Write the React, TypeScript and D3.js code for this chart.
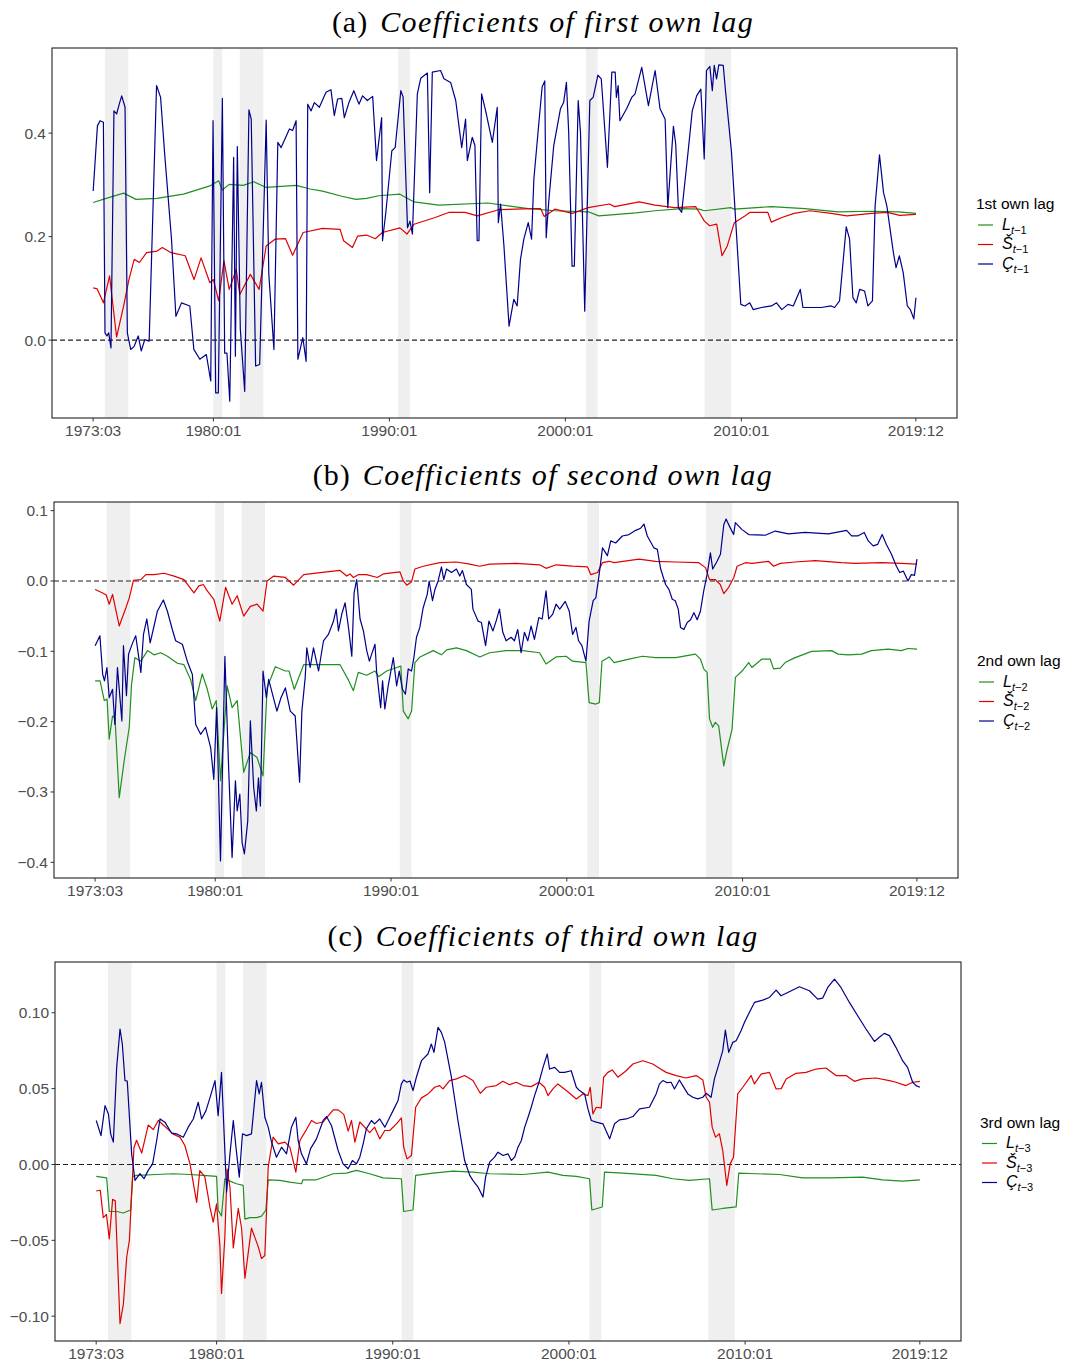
import * as d3 from "d3";

type Pt = [number, number];

const xTickLabels = ["1973:03", "1980:01", "1990:01", "2000:01", "2010:01", "2019:12"];
const sampleStart = "1973:03";
const sampleEnd = "2019:12";
const recessions: [string, string][] = [
  ["1973:11", "1975:03"],
  ["1980:01", "1980:07"],
  ["1981:07", "1982:11"],
  ["1990:07", "1991:03"],
  ["2001:03", "2001:11"],
  ["2007:12", "2009:06"],
];

// (a) first own lag
const L1: Pt[] = [[1973.17,0.266],[1974.0,0.275],[1974.9,0.284],[1975.6,0.272],[1976.8,0.274],[1978.3,0.282],[1979.8,0.298],[1980.3,0.308],[1980.5,0.29],[1980.9,0.301],[1981.7,0.299],[1982.3,0.306],[1983.0,0.295],[1984.7,0.299],[1985.5,0.292],[1986.2,0.288],[1987.3,0.278],[1988.1,0.272],[1988.7,0.274],[1989.4,0.279],[1990.6,0.282],[1991.4,0.267],[1992.8,0.261],[1995.6,0.265],[1997.9,0.254],[1999.4,0.25],[2001.3,0.248],[2001.9,0.24],[2004.0,0.246],[2005.1,0.25],[2006.6,0.254],[2007.6,0.253],[2007.9,0.25],[2009.4,0.256],[2009.6,0.253],[2011.7,0.258],[2013.6,0.254],[2015.5,0.248],[2017.4,0.249],[2018.9,0.248],[2019.92,0.245]];
const S1: Pt[] = [[1973.17,0.101],[1973.4,0.099],[1973.75,0.072],[1974.1,0.124],[1974.5,0.006],[1974.9,0.066],[1975.2,0.117],[1975.5,0.156],[1975.8,0.15],[1976.2,0.169],[1976.8,0.172],[1977.1,0.179],[1977.6,0.169],[1978.4,0.163],[1978.9,0.117],[1979.3,0.159],[1979.8,0.111],[1980.0,0.117],[1980.3,0.076],[1980.6,0.153],[1980.9,0.098],[1981.3,0.137],[1981.5,0.088],[1982.1,0.127],[1982.6,0.098],[1983.0,0.182],[1983.5,0.195],[1984.1,0.196],[1984.5,0.164],[1985.1,0.208],[1986.2,0.216],[1987.2,0.214],[1987.4,0.192],[1987.9,0.179],[1988.2,0.201],[1988.7,0.203],[1989.2,0.196],[1989.6,0.208],[1990.6,0.217],[1991.0,0.205],[1991.4,0.224],[1992.6,0.237],[1993.4,0.247],[1994.3,0.247],[1995.0,0.24],[1996.2,0.252],[1998.1,0.254],[1998.6,0.254],[1998.8,0.239],[1999.4,0.253],[2000.4,0.245],[2001.3,0.256],[2002.5,0.263],[2002.8,0.258],[2004.2,0.267],[2005.1,0.261],[2006.2,0.256],[2007.4,0.258],[2007.6,0.247],[2007.9,0.23],[2008.2,0.221],[2008.6,0.224],[2008.9,0.163],[2009.2,0.182],[2009.6,0.227],[2010.2,0.24],[2010.5,0.247],[2011.5,0.247],[2011.7,0.228],[2012.3,0.237],[2013.0,0.245],[2013.9,0.25],[2015.1,0.245],[2016.0,0.24],[2017.4,0.245],[2018.3,0.247],[2019.0,0.241],[2019.92,0.243]];
const C1: Pt[] = [[1973.17,0.288],[1973.41,0.414],[1973.56,0.424],[1973.75,0.421],[1973.84,0.014],[1973.95,0.008],[1974.05,0.014],[1974.18,-0.015],[1974.35,0.443],[1974.5,0.437],[1974.65,0.456],[1974.79,0.472],[1974.98,0.45],[1975.11,0.014],[1975.3,-0.018],[1975.5,-0.012],[1975.73,0.008],[1975.9,-0.021],[1976.1,0.001],[1976.35,-0.002],[1976.77,0.492],[1977.0,0.469],[1977.24,0.356],[1977.62,0.195],[1977.87,0.046],[1978.19,0.072],[1978.66,0.066],[1978.89,-0.018],[1979.23,-0.037],[1979.6,-0.028],[1979.85,-0.079],[1979.98,0.424],[1980.13,-0.102],[1980.28,-0.102],[1980.51,0.467],[1980.64,-0.025],[1980.77,-0.025],[1980.93,-0.118],[1981.15,0.353],[1981.25,-0.031],[1981.36,0.374],[1981.53,0.021],[1981.78,-0.099],[1982.02,0.445],[1982.15,0.427],[1982.4,-0.05],[1982.63,-0.047],[1983.0,0.425],[1983.15,0.127],[1983.44,-0.018],[1983.66,0.382],[1983.85,0.372],[1984.32,0.408],[1984.5,0.405],[1984.7,0.424],[1984.8,-0.037],[1985.08,0.005],[1985.27,-0.041],[1985.36,0.456],[1985.55,0.443],[1985.74,0.459],[1986.02,0.45],[1986.4,0.479],[1986.68,0.484],[1986.87,0.434],[1987.06,0.466],[1987.3,0.467],[1987.44,0.43],[1987.7,0.459],[1987.98,0.482],[1988.27,0.456],[1988.48,0.472],[1988.75,0.463],[1989.05,0.471],[1989.27,0.347],[1989.56,0.43],[1989.61,0.192],[1989.8,0.247],[1990.14,0.366],[1990.33,0.372],[1990.65,0.482],[1990.78,0.47],[1991.03,0.217],[1991.17,0.23],[1991.31,0.205],[1991.59,0.476],[1991.78,0.506],[1992.16,0.516],[1992.29,0.285],[1992.44,0.518],[1992.91,0.521],[1993.1,0.505],[1993.48,0.498],[1993.77,0.463],[1994.11,0.372],[1994.33,0.427],[1994.43,0.347],[1994.71,0.392],[1994.86,0.376],[1994.99,0.192],[1995.09,0.192],[1995.24,0.476],[1995.47,0.443],[1995.85,0.382],[1996.13,0.45],[1996.19,0.227],[1996.32,0.263],[1996.51,0.182],[1996.8,0.027],[1997.07,0.079],[1997.26,0.066],[1997.45,0.156],[1997.64,0.195],[1997.89,0.227],[1998.08,0.195],[1998.21,0.311],[1998.49,0.418],[1998.68,0.489],[1998.83,0.501],[1998.91,0.198],[1999.06,0.269],[1999.34,0.376],[1999.53,0.411],[1999.72,0.447],[1999.9,0.459],[2000.06,0.498],[2000.19,0.401],[2000.38,0.143],[2000.51,0.143],[2000.73,0.463],[2000.86,0.401],[2001.1,0.056],[2001.39,0.463],[2001.58,0.469],[2001.85,0.512],[2002.04,0.505],[2002.39,0.334],[2002.64,0.518],[2002.83,0.518],[2002.9,0.469],[2003.0,0.492],[2003.1,0.424],[2003.48,0.447],[2003.77,0.469],[2003.96,0.476],[2004.34,0.527],[2004.72,0.453],[2005.1,0.521],[2005.38,0.447],[2005.67,0.427],[2005.82,0.256],[2006.14,0.413],[2006.27,0.379],[2006.42,0.256],[2006.61,0.247],[2006.99,0.369],[2007.21,0.443],[2007.46,0.472],[2007.7,0.485],[2007.89,0.35],[2008.02,0.521],[2008.21,0.529],[2008.35,0.482],[2008.46,0.531],[2008.59,0.505],[2008.72,0.532],[2008.97,0.531],[2009.1,0.482],[2009.44,0.363],[2009.97,0.069],[2010.2,0.066],[2010.48,0.072],[2010.67,0.059],[2011.15,0.063],[2011.71,0.066],[2012.0,0.072],[2012.3,0.059],[2012.65,0.069],[2012.95,0.066],[2013.35,0.098],[2013.5,0.063],[2014.54,0.063],[2015.1,0.066],[2015.3,0.063],[2015.58,0.076],[2015.96,0.219],[2016.15,0.195],[2016.34,0.082],[2016.53,0.072],[2016.72,0.098],[2017.0,0.095],[2017.19,0.066],[2017.45,0.076],[2017.6,0.259],[2017.85,0.358],[2018.08,0.285],[2018.27,0.259],[2018.64,0.169],[2018.79,0.14],[2018.98,0.163],[2019.2,0.13],[2019.43,0.066],[2019.6,0.059],[2019.8,0.041],[2019.92,0.082]];

// (b) second own lag
const L2: Pt[] = [[1973.17,-0.142],[1973.45,-0.142],[1973.69,-0.17],[1973.85,-0.168],[1973.97,-0.225],[1974.16,-0.192],[1974.3,-0.195],[1974.54,-0.308],[1974.82,-0.256],[1975.11,-0.208],[1975.24,-0.147],[1975.43,-0.109],[1975.77,-0.114],[1976.15,-0.099],[1976.52,-0.105],[1976.9,-0.102],[1977.28,-0.107],[1977.85,-0.117],[1978.22,-0.119],[1978.6,-0.14],[1978.89,-0.17],[1979.26,-0.132],[1979.55,-0.154],[1979.83,-0.182],[1980.06,-0.17],[1980.3,-0.284],[1980.68,-0.149],[1980.96,-0.18],[1981.25,-0.17],[1981.62,-0.272],[1982.0,-0.244],[1982.38,-0.251],[1982.72,-0.277],[1982.95,-0.152],[1983.42,-0.122],[1983.99,-0.128],[1984.2,-0.128],[1984.5,-0.154],[1985.03,-0.119],[1986.16,-0.119],[1987.1,-0.119],[1987.58,-0.141],[1987.86,-0.156],[1988.14,-0.13],[1988.62,-0.134],[1989.09,-0.128],[1989.29,-0.136],[1989.75,-0.128],[1990.32,-0.123],[1990.56,-0.121],[1990.7,-0.185],[1990.98,-0.196],[1991.17,-0.185],[1991.36,-0.116],[1991.65,-0.108],[1992.4,-0.099],[1992.87,-0.105],[1993.16,-0.098],[1993.72,-0.095],[1994.29,-0.099],[1995.05,-0.108],[1995.61,-0.102],[1996.56,-0.099],[1997.5,-0.099],[1998.45,-0.102],[1998.82,-0.118],[1999.39,-0.108],[1999.96,-0.107],[2000.33,-0.114],[2001.09,-0.116],[2001.27,-0.173],[2001.65,-0.175],[2001.85,-0.173],[2002.0,-0.114],[2002.41,-0.108],[2002.69,-0.116],[2003.54,-0.111],[2004.3,-0.107],[2005.05,-0.109],[2006.19,-0.109],[2007.32,-0.104],[2007.6,-0.111],[2007.79,-0.125],[2007.98,-0.13],[2008.12,-0.196],[2008.3,-0.208],[2008.45,-0.201],[2008.64,-0.206],[2008.93,-0.263],[2009.11,-0.241],[2009.4,-0.211],[2009.59,-0.137],[2009.97,-0.128],[2010.35,-0.116],[2010.53,-0.123],[2011.1,-0.111],[2011.57,-0.111],[2011.76,-0.125],[2012.14,-0.124],[2012.42,-0.116],[2012.99,-0.109],[2013.93,-0.1],[2015.07,-0.099],[2015.44,-0.104],[2016.01,-0.105],[2016.77,-0.104],[2017.33,-0.099],[2018.28,-0.097],[2019.03,-0.099],[2019.4,-0.096],[2019.92,-0.097]];
const S2: Pt[] = [[1973.17,-0.012],[1973.6,-0.017],[1973.8,-0.02],[1973.97,-0.033],[1974.16,-0.019],[1974.54,-0.064],[1974.92,-0.038],[1975.11,-0.024],[1975.35,0.001],[1975.77,0.002],[1976.05,0.009],[1976.52,0.009],[1977.09,0.011],[1977.66,0.007],[1978.22,0.002],[1978.79,-0.017],[1979.07,-0.007],[1979.32,-0.005],[1979.55,-0.014],[1979.92,-0.026],[1980.26,-0.057],[1980.59,-0.009],[1980.96,-0.033],[1981.25,-0.021],[1981.62,-0.05],[1982.0,-0.036],[1982.38,-0.033],[1982.72,-0.043],[1982.95,0.0],[1983.33,0.007],[1983.99,0.005],[1984.46,-0.006],[1985.03,0.009],[1985.97,0.012],[1987.1,0.015],[1987.48,0.007],[1987.67,0.01],[1987.86,0.005],[1988.14,0.009],[1988.6,0.009],[1989.22,0.005],[1989.56,0.01],[1990.51,0.013],[1990.7,0.0],[1990.9,-0.006],[1991.17,-0.001],[1991.36,0.017],[1991.83,0.021],[1992.78,0.026],[1993.72,0.027],[1994.48,0.024],[1995.05,0.021],[1995.61,0.024],[1997.12,0.025],[1998.45,0.023],[1998.82,0.018],[1999.4,0.023],[2000.33,0.021],[2001.18,0.02],[2001.37,0.009],[2001.75,0.012],[2002.03,0.026],[2002.41,0.028],[2002.69,0.026],[2004.11,0.031],[2005.05,0.028],[2006.19,0.027],[2007.51,0.026],[2007.89,0.019],[2008.12,0.002],[2008.45,0.002],[2008.73,-0.005],[2008.93,-0.018],[2009.21,-0.009],[2009.5,0.005],[2009.69,0.021],[2010.16,0.026],[2010.55,0.025],[2011.47,0.028],[2011.76,0.021],[2012.14,0.025],[2012.99,0.027],[2014.12,0.029],[2015.63,0.026],[2016.39,0.025],[2017.9,0.026],[2019.03,0.025],[2019.92,0.024]];
const C2: Pt[] = [[1973.17,-0.092],[1973.44,-0.078],[1973.6,-0.133],[1973.7,-0.142],[1973.84,-0.123],[1973.97,-0.166],[1974.16,-0.154],[1974.29,-0.204],[1974.44,-0.123],[1974.56,-0.16],[1974.69,-0.199],[1974.78,-0.092],[1974.95,-0.163],[1975.07,-0.104],[1975.3,-0.088],[1975.48,-0.078],[1975.77,-0.13],[1975.92,-0.076],[1976.11,-0.054],[1976.3,-0.088],[1976.52,-0.064],[1976.71,-0.043],[1977.05,-0.027],[1977.28,-0.043],[1977.56,-0.069],[1977.75,-0.085],[1978.13,-0.09],[1978.41,-0.114],[1978.7,-0.133],[1978.89,-0.204],[1979.17,-0.218],[1979.45,-0.208],[1979.74,-0.237],[1979.92,-0.282],[1980.08,-0.18],[1980.3,-0.398],[1980.55,-0.107],[1980.77,-0.27],[1980.96,-0.393],[1981.15,-0.284],[1981.25,-0.327],[1981.4,-0.303],[1981.53,-0.372],[1981.66,-0.388],[1981.85,-0.341],[1982.0,-0.199],[1982.19,-0.294],[1982.34,-0.327],[1982.46,-0.28],[1982.57,-0.32],[1982.72,-0.128],[1982.91,-0.166],[1983.04,-0.14],[1983.51,-0.185],[1983.74,-0.166],[1983.99,-0.152],[1984.27,-0.185],[1984.55,-0.192],[1984.8,-0.286],[1984.93,-0.185],[1985.12,-0.137],[1985.21,-0.095],[1985.4,-0.123],[1985.59,-0.095],[1985.88,-0.128],[1986.16,-0.085],[1986.44,-0.076],[1986.73,-0.057],[1986.88,-0.04],[1987.01,-0.071],[1987.2,-0.047],[1987.39,-0.031],[1987.58,-0.066],[1987.77,-0.107],[1987.9,-0.017],[1988.05,0.002],[1988.24,-0.054],[1988.43,-0.071],[1988.62,-0.099],[1988.77,-0.114],[1988.9,-0.104],[1989.09,-0.09],[1989.18,-0.128],[1989.41,-0.18],[1989.52,-0.142],[1989.65,-0.182],[1989.84,-0.149],[1990.03,-0.123],[1990.13,-0.109],[1990.32,-0.149],[1990.47,-0.128],[1990.65,-0.154],[1990.82,-0.161],[1990.98,-0.125],[1991.17,-0.128],[1991.3,-0.109],[1991.45,-0.08],[1991.64,-0.066],[1991.83,-0.038],[1992.06,-0.019],[1992.17,0.0],[1992.36,-0.028],[1992.5,-0.012],[1992.68,0.0],[1992.87,0.02],[1993.0,0.002],[1993.16,0.017],[1993.44,0.012],[1993.72,0.017],[1993.91,0.007],[1994.06,0.015],[1994.29,-0.005],[1994.57,-0.012],[1994.66,-0.04],[1994.95,-0.057],[1995.14,-0.059],[1995.38,-0.092],[1995.57,-0.057],[1995.8,-0.071],[1995.98,-0.057],[1996.17,-0.04],[1996.36,-0.073],[1996.55,-0.085],[1996.83,-0.08],[1997.02,-0.085],[1997.21,-0.069],[1997.4,-0.102],[1997.59,-0.073],[1997.78,-0.085],[1997.97,-0.064],[1998.16,-0.083],[1998.41,-0.052],[1998.6,-0.054],[1998.82,-0.014],[1998.97,-0.054],[1999.2,-0.047],[1999.39,-0.033],[1999.6,-0.04],[1999.91,-0.029],[2000.14,-0.043],[2000.33,-0.076],[2000.52,-0.066],[2000.67,-0.085],[2000.86,-0.092],[2001.09,-0.114],[2001.27,-0.057],[2001.5,-0.028],[2001.65,-0.024],[2001.84,0.009],[2002.03,0.047],[2002.31,0.036],[2002.5,0.057],[2002.78,0.054],[2003.16,0.064],[2003.54,0.066],[2003.92,0.072],[2004.2,0.075],[2004.39,0.081],[2004.58,0.064],[2004.96,0.047],[2005.15,0.045],[2005.34,0.017],[2005.62,-0.005],[2005.81,-0.012],[2006.0,-0.026],[2006.17,-0.028],[2006.34,-0.04],[2006.47,-0.066],[2006.66,-0.069],[2006.85,-0.059],[2007.04,-0.055],[2007.23,-0.045],[2007.42,-0.055],[2007.6,-0.043],[2007.79,-0.014],[2007.98,0.009],[2008.17,0.04],[2008.3,0.017],[2008.55,0.028],[2008.74,0.038],[2008.93,0.08],[2009.06,0.088],[2009.25,0.078],[2009.49,0.066],[2009.59,0.083],[2009.97,0.073],[2010.35,0.066],[2011.29,0.065],[2011.86,0.071],[2012.61,0.067],[2013.55,0.069],[2014.88,0.067],[2015.92,0.072],[2016.2,0.064],[2016.55,0.064],[2016.92,0.069],[2017.15,0.057],[2017.43,0.05],[2017.68,0.052],[2017.94,0.066],[2018.18,0.052],[2018.47,0.038],[2018.75,0.021],[2018.94,0.012],[2019.15,0.014],[2019.41,0.0],[2019.6,0.009],[2019.78,0.008],[2019.92,0.031]];

// (c) third own lag
const L3: Pt[] = [[1973.17,-0.0079],[1973.76,-0.0088],[1973.91,-0.031],[1974.33,-0.031],[1974.71,-0.032],[1975.12,-0.03],[1975.24,-0.0079],[1975.46,-0.0072],[1976.6,-0.0066],[1977.54,-0.0061],[1978.49,-0.0066],[1979.24,-0.0072],[1980.0,-0.0079],[1980.09,-0.03],[1980.28,-0.034],[1980.47,-0.0094],[1980.76,-0.011],[1981.13,-0.0127],[1981.51,-0.0138],[1981.61,-0.036],[1981.89,-0.035],[1982.27,-0.035],[1982.55,-0.034],[1982.8,-0.03],[1982.93,-0.0101],[1983.59,-0.0105],[1984.16,-0.0116],[1984.82,-0.0127],[1984.9,-0.0101],[1985.67,-0.0101],[1986.62,-0.0061],[1987.37,-0.0057],[1987.94,-0.0039],[1988.69,-0.0061],[1989.45,-0.0088],[1990.49,-0.0094],[1990.62,-0.031],[1991.15,-0.03],[1991.3,-0.0072],[1992.28,-0.0057],[1993.42,-0.0044],[1994.55,-0.005],[1995.5,-0.0061],[1997.39,-0.0066],[1998.81,-0.005],[1999.66,-0.0072],[2000.42,-0.0079],[2001.17,-0.0094],[2001.3,-0.03],[2001.89,-0.028],[2002.02,-0.005],[2003.06,-0.0057],[2004.95,-0.0072],[2005.9,-0.0094],[2006.84,-0.0105],[2007.98,-0.0094],[2008.13,-0.03],[2008.73,-0.029],[2009.49,-0.028],[2009.64,-0.0057],[2010.62,-0.0061],[2011.95,-0.0066],[2013.27,-0.0088],[2014.78,-0.0088],[2016.67,-0.0083],[2017.81,-0.0101],[2018.94,-0.011],[2019.92,-0.0101]];
const S3: Pt[] = [[1973.17,-0.0175],[1973.4,-0.017],[1973.57,-0.035],[1973.75,-0.033],[1973.91,-0.049],[1974.1,-0.023],[1974.25,-0.024],[1974.52,-0.105],[1974.71,-0.092],[1974.9,-0.061],[1975.05,-0.05],[1975.31,0.011],[1975.46,0.016],[1975.75,0.0075],[1976.12,0.026],[1976.41,0.023],[1976.69,0.029],[1976.98,0.026],[1977.26,0.023],[1977.54,0.02],[1977.92,0.018],[1978.2,0.0125],[1978.49,0.0004],[1978.87,-0.025],[1979.05,-0.004],[1979.33,-0.008],[1979.62,-0.028],[1979.81,-0.038],[1980.0,-0.026],[1980.19,-0.054],[1980.28,-0.085],[1980.47,-0.048],[1980.6,-0.003],[1980.76,-0.015],[1980.95,-0.055],[1981.23,-0.029],[1981.42,-0.042],[1981.61,-0.075],[1981.98,-0.042],[1982.36,-0.054],[1982.55,-0.062],[1982.74,-0.06],[1982.93,-0.0018],[1983.21,0.018],[1983.5,0.0136],[1983.88,0.0147],[1984.16,0.0114],[1984.5,-0.005],[1984.73,0.0158],[1985.1,0.023],[1985.39,0.029],[1985.67,0.027],[1986.05,0.028],[1986.62,0.036],[1986.9,0.036],[1987.22,0.033],[1987.47,0.022],[1987.66,0.029],[1987.85,0.0147],[1988.13,0.028],[1988.5,0.0235],[1988.69,0.021],[1988.97,0.0246],[1989.26,0.0169],[1989.55,0.0224],[1989.83,0.0224],[1990.21,0.0268],[1990.49,0.0307],[1990.62,0.0114],[1990.81,0.0037],[1991.06,0.0059],[1991.3,0.0377],[1991.63,0.0439],[1992.0,0.0465],[1992.38,0.0509],[1992.66,0.052],[1992.85,0.0498],[1993.23,0.0553],[1993.61,0.0564],[1994.08,0.0586],[1994.55,0.0553],[1994.97,0.0469],[1995.31,0.0509],[1995.88,0.052],[1996.25,0.0548],[1996.63,0.0526],[1997.01,0.0542],[1997.39,0.052],[1997.86,0.0513],[1998.3,0.0542],[1998.62,0.0509],[1998.81,0.0454],[1999.09,0.0498],[1999.37,0.0531],[1999.85,0.0487],[2000.42,0.0432],[2000.79,0.0465],[2001.08,0.0454],[2001.21,0.0509],[2001.36,0.0333],[2001.55,0.0377],[2001.83,0.0373],[2001.97,0.0575],[2002.21,0.0607],[2002.46,0.0623],[2002.78,0.0575],[2003.25,0.0618],[2003.63,0.0662],[2004.2,0.0684],[2004.76,0.0662],[2005.2,0.063],[2005.52,0.0607],[2006.09,0.0586],[2006.65,0.057],[2007.22,0.0586],[2007.6,0.0557],[2007.79,0.0443],[2007.98,0.041],[2008.13,0.0246],[2008.32,0.018],[2008.54,0.0202],[2008.73,0.0092],[2008.96,-0.0138],[2009.15,0.0004],[2009.34,0.0048],[2009.58,0.0465],[2009.87,0.0509],[2010.34,0.0586],[2010.53,0.0531],[2010.91,0.0596],[2011.38,0.0607],[2011.76,0.0498],[2012.05,0.05],[2012.33,0.0564],[2012.89,0.0601],[2013.46,0.0607],[2014.03,0.0629],[2014.59,0.0636],[2015.16,0.0586],[2015.73,0.0586],[2016.2,0.0548],[2016.67,0.0564],[2017.43,0.057],[2018.19,0.0553],[2018.56,0.0542],[2019.13,0.052],[2019.51,0.0542],[2019.92,0.0548]];
const C3: Pt[] = [[1973.17,0.029],[1973.44,0.019],[1973.67,0.0388],[1973.86,0.0333],[1973.99,0.0202],[1974.14,0.0147],[1974.33,0.064],[1974.52,0.0893],[1974.65,0.0794],[1974.8,0.0553],[1974.93,0.055],[1975.18,0.007],[1975.37,-0.0105],[1975.65,-0.0061],[1975.88,-0.0094],[1976.12,-0.0039],[1976.37,0.0004],[1976.6,0.0158],[1976.79,0.03],[1977.07,0.0279],[1977.45,0.0206],[1977.73,0.0202],[1978.11,0.018],[1978.39,0.0246],[1978.68,0.03],[1978.96,0.041],[1979.15,0.03],[1979.4,0.0355],[1979.66,0.0454],[1979.91,0.0553],[1980.09,0.0322],[1980.28,0.0607],[1980.57,-0.0182],[1980.76,0.007],[1980.95,0.029],[1981.1,0.0114],[1981.29,-0.0083],[1981.47,0.0202],[1981.7,0.019],[1981.98,0.0202],[1982.27,0.0553],[1982.42,0.0465],[1982.55,0.0542],[1982.74,0.0311],[1982.93,0.0246],[1983.12,0.0147],[1983.4,0.0048],[1983.69,0.0114],[1983.97,0.007],[1984.25,0.0246],[1984.5,0.0311],[1984.63,0.0158],[1984.82,0.007],[1985.1,0.0004],[1985.33,0.0103],[1985.67,0.0169],[1986.05,0.029],[1986.24,0.0316],[1986.52,0.0257],[1986.9,0.0092],[1987.18,0.0004],[1987.47,-0.0028],[1987.71,0.0026],[1987.94,0.0004],[1988.13,0.0048],[1988.32,0.0136],[1988.5,0.0235],[1988.79,0.029],[1988.97,0.0268],[1989.26,0.03],[1989.55,0.0246],[1989.83,0.0311],[1990.02,0.0355],[1990.3,0.0421],[1990.49,0.0531],[1990.62,0.0557],[1990.81,0.0542],[1990.98,0.055],[1991.15,0.0487],[1991.34,0.0575],[1991.63,0.0684],[1992.0,0.0728],[1992.19,0.0794],[1992.34,0.0739],[1992.57,0.0904],[1992.76,0.0871],[1992.95,0.0805],[1993.33,0.0575],[1993.7,0.029],[1994.08,0.0026],[1994.37,-0.0072],[1994.55,-0.0105],[1994.84,-0.0149],[1995.12,-0.0215],[1995.27,-0.0083],[1995.5,0.0015],[1995.78,0.0048],[1995.97,0.0081],[1996.26,0.0059],[1996.54,0.007],[1996.73,0.0026],[1996.92,0.0048],[1997.11,0.0114],[1997.3,0.0158],[1997.49,0.0246],[1997.68,0.0311],[1997.86,0.0377],[1998.05,0.0454],[1998.3,0.0542],[1998.53,0.064],[1998.77,0.0728],[1998.9,0.0629],[1999.19,0.064],[1999.47,0.0607],[1999.75,0.0607],[2000.13,0.0618],[2000.42,0.0509],[2000.6,0.0487],[2000.89,0.0465],[2001.08,0.0366],[2001.27,0.029],[2001.55,0.0279],[2001.93,0.0268],[2002.31,0.0169],[2002.59,0.0268],[2002.87,0.0294],[2003.25,0.03],[2003.63,0.0316],[2004.01,0.0366],[2004.57,0.0377],[2004.95,0.0465],[2005.14,0.0531],[2005.33,0.0553],[2005.55,0.054],[2005.8,0.0542],[2005.99,0.0498],[2006.27,0.0557],[2006.46,0.052],[2006.75,0.0465],[2007.03,0.0443],[2007.31,0.0432],[2007.6,0.0443],[2007.79,0.0469],[2008.07,0.0443],[2008.26,0.0564],[2008.54,0.0673],[2008.73,0.075],[2008.88,0.0886],[2009.07,0.0739],[2009.3,0.0805],[2009.49,0.0816],[2009.77,0.0882],[2009.96,0.0936],[2010.24,0.1002],[2010.53,0.1068],[2011.0,0.1083],[2011.38,0.1101],[2011.76,0.1149],[2012.04,0.1112],[2012.42,0.1134],[2013.08,0.1171],[2013.65,0.1145],[2014.12,0.109],[2014.4,0.1096],[2014.69,0.1167],[2015.07,0.1221],[2015.44,0.1167],[2015.92,0.1068],[2016.39,0.098],[2016.86,0.0893],[2017.34,0.0811],[2017.62,0.0838],[2017.9,0.0864],[2018.19,0.0849],[2018.56,0.0772],[2018.94,0.0684],[2019.22,0.064],[2019.51,0.0542],[2019.7,0.052],[2019.92,0.0509]];

const COLORS = { L: "#1f8f1f", S: "#e00000", C: "#00008b" };

const parseYM = (s: string) => {
  const [y, m] = s.split(":").map(Number);
  return y + (m - 1) / 12;
};

const panels = [
  { tag: "(a)", title: "Coefficients of first own lag", legend: "1st own lag", lag: "1",
    left: 52, right: 957, top: 48, bottom: 418, titleY: 32, yFmt: ".1f", yTicks: [0, 0.2, 0.4], L: L1, S: S1, C: C1 },
  { tag: "(b)", title: "Coefficients of second own lag", legend: "2nd own lag", lag: "2",
    left: 54, right: 958, top: 502, bottom: 878, titleY: 485, yFmt: ".1f", yTicks: [0.1, 0, -0.1, -0.2, -0.3, -0.4], L: L2, S: S2, C: C2 },
  { tag: "(c)", title: "Coefficients of third own lag", legend: "3rd own lag", lag: "3",
    left: 55, right: 961, top: 962, bottom: 1341, titleY: 946, yFmt: ".2f", yTicks: [0.1, 0.05, 0, -0.05, -0.1], L: L3, S: S3, C: C3 },
];

const SANS = "'Liberation Sans', Arial, sans-serif";
const SERIF = "'Liberation Serif', 'DejaVu Serif', serif";

function Panel({ p }: { p: (typeof panels)[number] }) {
  const t0 = parseYM(sampleStart);
  const t1 = parseYM(sampleEnd);
  const pad = (t1 - t0) * 0.05;
  const x = d3.scaleLinear().domain([t0 - pad, t1 + pad]).range([p.left, p.right]);

  const all = [...p.L, ...p.S, ...p.C].map((d) => d[1]);
  const [lo, hi] = d3.extent(all) as [number, number];
  const ypad = (hi - lo) * 0.05;
  const y = d3.scaleLinear().domain([lo - ypad, hi + ypad]).range([p.bottom, p.top]);

  const line = d3.line<Pt>().x((d) => x(d[0])).y((d) => y(d[1]));
  const fmt = d3.format(p.yFmt);
  const clipId = "clip" + p.tag.replace(/\W/g, "");
  const mid = (p.top + p.bottom) / 2;
  const lx = p.right + 19;

  const series: { key: "L" | "S" | "C"; data: Pt[]; sym: string }[] = [
    { key: "L", data: p.L, sym: "L" },
    { key: "S", data: p.S, sym: "\u0160" },
    { key: "C", data: p.C, sym: "\u00C7" },
  ];

  return (
    <g>
      <text x={543} y={p.titleY} textAnchor="middle" fontFamily={SERIF} fontSize={30} fill="#000">
        <tspan letterSpacing={1}>{p.tag}</tspan>
        <tspan dx={12} fontStyle="italic" letterSpacing={1.4}>{p.title}</tspan>
      </text>
      <defs>
        <clipPath id={clipId}>
          <rect x={p.left} y={p.top} width={p.right - p.left} height={p.bottom - p.top} />
        </clipPath>
      </defs>
      <g clipPath={`url(#${clipId})`}>
        {recessions.map(([a, b], i) => (
          <rect key={i} x={x(parseYM(a))} y={p.top} width={x(parseYM(b)) - x(parseYM(a))} height={p.bottom - p.top} fill="#efefef" />
        ))}
        <line x1={p.left} x2={p.right} y1={y(0)} y2={y(0)} stroke="#222" strokeWidth={1.1} strokeDasharray="5 3" />
        {series.map((s) => (
          <path key={s.key} d={line(s.data) || ""} fill="none" stroke={COLORS[s.key]} strokeWidth={1.2} strokeLinejoin="round" />
        ))}
      </g>
      <rect x={p.left} y={p.top} width={p.right - p.left} height={p.bottom - p.top} fill="none" stroke="#222" strokeWidth={1.1} />
      {p.yTicks.map((v) => (
        <g key={v}>
          <line x1={p.left - 3.5} x2={p.left} y1={y(v)} y2={y(v)} stroke="#333" strokeWidth={1} />
          <text x={p.left - 6} y={y(v)} dy="0.35em" textAnchor="end" fontFamily={SANS} fontSize={15.5} fill="#4d4d4d">
            {fmt(v)}
          </text>
        </g>
      ))}
      {xTickLabels.map((s) => (
        <g key={s}>
          <line x1={x(parseYM(s))} x2={x(parseYM(s))} y1={p.bottom} y2={p.bottom + 3.5} stroke="#333" strokeWidth={1} />
          <text x={x(parseYM(s))} y={p.bottom + 18} textAnchor="middle" fontFamily={SANS} fontSize={15.5} fill="#4d4d4d">
            {s}
          </text>
        </g>
      ))}
      <text x={lx} y={mid - 24} fontFamily={SANS} fontSize={15.5} fill="#000">
        {p.legend}
      </text>
      {series.map((s, i) => {
        const ky = mid - 8 + i * 19.5;
        return (
          <g key={s.key}>
            <line x1={lx + 2} x2={lx + 17} y1={ky} y2={ky} stroke={COLORS[s.key]} strokeWidth={1.2} />
            <text x={lx + 26} y={ky + 4.5} fontFamily={SANS} fontSize={16} fill="#000">
              <tspan fontStyle="italic">{s.sym}</tspan>
              <tspan fontSize={11} dy={4} fontStyle="italic">t</tspan>
              <tspan fontSize={11}>{"\u2212" + p.lag}</tspan>
            </text>
          </g>
        );
      })}
    </g>
  );
}

export default function App() {
  return (
    <svg width={1067} height={1363} style={{ position: "absolute", left: 0, top: 0, background: "#fff" }}>
      <rect width={1067} height={1363} fill="#fff" />
      {panels.map((p) => (
        <Panel key={p.tag} p={p} />
      ))}
    </svg>
  );
}
